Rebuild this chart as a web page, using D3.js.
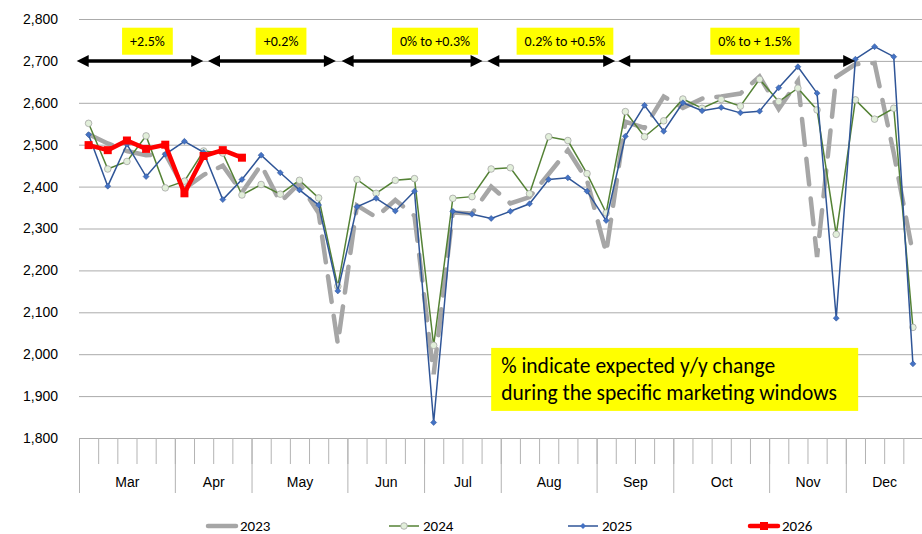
<!DOCTYPE html>
<html>
<head>
<meta charset="UTF-8">
<title>Weekly volume by marketing window</title>
<script src="https://cdn.jsdelivr.net/npm/d3@7"></script>
<style>
  body { margin: 0; background: #fff; }
  svg { display: block; font-family: Carlito, Lato, sans-serif; }
</style>
</head>
<body>
<svg id="chart" width="922" height="534"></svg>
<script>
  // months on the outer axis level, and how many weekly points each one holds
  const months = ["Mar", "Apr", "May", "Jun", "Jul", "Aug", "Sep", "Oct", "Nov", "Dec"];
  const weeksPerMonth = [5, 4, 5, 4, 4, 5, 4, 5, 4, 4];
  const yTicks = [1800, 1900, 2000, 2100, 2200, 2300, 2400, 2500, 2600, 2700, 2800];
  const years = ["2023", "2024", "2025", "2026"];

  // weekly values
  const v2023 = [2525, 2503, 2485, 2475, 2478, 2395, 2428, 2450, 2386, 2452, 2363, 2408, 2337, 2025,
    2355, 2327, 2368, 2330, 1952, 2338, 2336, 2400, 2360, 2375, 2430, 2487, 2415, 2242, 2555, 2540,
    2615, 2588, 2610, 2615, 2622, 2663, 2585, 2652, 2232, 2662, 2692, 2695, 2480, 2240];
  const v2024 = [2551, 2442, 2460, 2521, 2397, 2413, 2485, 2480, 2380, 2405, 2382, 2415, 2373, 2162,
    2417, 2384, 2415, 2419, 2021, 2372, 2376, 2442, 2445, 2383, 2519, 2510, 2431, 2337, 2579, 2519,
    2557, 2609, 2587, 2608, 2592, 2656, 2603, 2635, 2583, 2286, 2607, 2561, 2587, 2064];
  const v2025 = [2524, 2401, 2501, 2424, 2477, 2508, 2482, 2369, 2417, 2475, 2433, 2392, 2356, 2151,
    2352, 2372, 2342, 2389, 1837, 2341, 2334, 2324, 2341, 2359, 2417, 2421, 2389, 2319, 2520, 2594,
    2532, 2600, 2581, 2589, 2576, 2580, 2636, 2686, 2623, 2086, 2704, 2734, 2710, 1977];
  const v2026 = [2499, 2487, 2510, 2490, 2500, 2384, 2473, 2487, 2469];

  // marketing windows, in week units, with the expected y/y change
  const windowLabels = ["+2.5%", "+0.2%", "0% to +0.3%", "0.2% to +0.5%", "0% to + 1.5%"];
  const windowFrom = [-0.12, 6.73, 13.7, 21.3, 28.13];
  const windowTo = [6.48, 13.4, 21.05, 27.97, 40.49];
  const labelAt = [3.57, 10.54, 18.57, 25.35, 35.26];

  const pLeft = 79, pRight = 922.5, pTop = 19, pBottom = 438;
  const svg = d3.select("#chart");

  var nWeeks = d3.sum(weeksPerMonth);
  var monthEdges = [0];
  weeksPerMonth.forEach(n => monthEdges.push(monthEdges[monthEdges.length - 1] + n));
  var monthMids = months.map((m, i) => (monthEdges[i] + monthEdges[i + 1]) / 2);

  const xBand = d3.scaleBand().domain(d3.range(nWeeks)).range([pLeft, pRight]);
  const xEdge = d3.scaleLinear().domain([0, nWeeks]).range([pLeft, pRight]);
  const y = d3.scaleLinear().domain([1800, 2800]).range([pBottom, pTop]);
  const cx = i => xBand(i) + xBand.bandwidth() / 2;

  // gridlines + y labels
  const yAxis = svg.append("g")
    .attr("transform", "translate(" + pLeft + ",0)")
    .call(d3.axisLeft(y).tickValues(yTicks).tickFormat(d3.format(","))
      .tickSizeInner(-(pRight - pLeft)).tickSizeOuter(0).tickPadding(21));
  yAxis.select(".domain").remove();
  yAxis.selectAll("line").attr("stroke", "#ababab").attr("stroke-width", 1);
  yAxis.selectAll("text").attr("fill", "#000").style("font-size", "14px");

  // week ticks, longer month separators, month names
  const weekAxis = svg.append("g")
    .attr("transform", "translate(0," + pBottom + ")")
    .call(d3.axisBottom(xEdge).tickValues(d3.range(nWeeks + 1)).tickSize(26).tickFormat(""));
  weekAxis.select(".domain").remove();
  weekAxis.selectAll("line").attr("stroke", "#b3b3b3");

  const monthAxis = svg.append("g")
    .attr("transform", "translate(0," + pBottom + ")")
    .call(d3.axisBottom(xEdge).tickValues(monthEdges).tickSize(55).tickFormat(""));
  monthAxis.select(".domain").remove();
  monthAxis.selectAll("line").attr("stroke", "#b3b3b3");

  const labelAxis = svg.append("g")
    .attr("transform", "translate(0," + pBottom + ")")
    .call(d3.axisBottom(xEdge).tickValues(monthMids).tickSize(0).tickPadding(39)
      .tickFormat((d, i) => months[i]));
  labelAxis.select(".domain").remove();
  labelAxis.selectAll("text").attr("fill", "#000").style("font-size", "14px");

  const line = d3.line().x((d, i) => cx(i)).y(d => y(d));

  // 2023 - thick grey long dashes
  svg.append("path").datum(v2023)
    .attr("d", line).attr("fill", "none")
    .attr("stroke", "#a6a6a6").attr("stroke-width", 4.5)
    .attr("stroke-dasharray", "26,14").attr("stroke-linecap", "round");

  // 2024 - green with pale circles
  svg.append("path").datum(v2024)
    .attr("d", line).attr("fill", "none")
    .attr("stroke", "#548235").attr("stroke-width", 1.5);
  svg.selectAll(".m2024").data(v2024).enter().append("circle")
    .attr("class", "m2024")
    .attr("cx", (d, i) => cx(i)).attr("cy", d => y(d)).attr("r", 3.3)
    .attr("fill", "#e2efda").attr("stroke", "#a5a5a5").attr("stroke-width", 0.8);

  // 2025 - blue with diamonds
  svg.append("path").datum(v2025)
    .attr("d", line).attr("fill", "none")
    .attr("stroke", "#2f5597").attr("stroke-width", 1.5);
  svg.selectAll(".m2025").data(v2025).enter().append("path")
    .attr("class", "m2025")
    .attr("d", d3.symbol(d3.symbolSquare, 18))
    .attr("transform", (d, i) => "translate(" + cx(i) + "," + y(d) + ") rotate(45)")
    .attr("fill", "#4472c4").attr("stroke", "#2f5597").attr("stroke-width", 0.5);

  // 2026 - red, thick, squares
  svg.append("path").datum(v2026)
    .attr("d", line).attr("fill", "none")
    .attr("stroke", "#ff0000").attr("stroke-width", 4.5).attr("stroke-linejoin", "round");
  svg.selectAll(".m2026").data(v2026).enter().append("rect")
    .attr("class", "m2026")
    .attr("x", (d, i) => cx(i) - 4).attr("y", d => y(d) - 4)
    .attr("width", 8).attr("height", 8).attr("fill", "#ff0000");

  // window arrows + yellow labels
  const ay = y(2700), head = 12;
  windowLabels.forEach((lab, i) => {
    var x1 = xEdge(windowFrom[i]), x2 = xEdge(windowTo[i]);
    svg.append("line")
      .attr("x1", x1 + head - 1).attr("x2", x2 - head + 1).attr("y1", ay).attr("y2", ay)
      .attr("stroke", "#000").attr("stroke-width", 3.5);
    svg.append("path")
      .attr("d", "M" + x1 + "," + ay + "L" + (x1 + head) + "," + (ay - 6) + "L" + (x1 + head) + "," + (ay + 6) + "Z")
      .attr("fill", "#000");
    svg.append("path")
      .attr("d", "M" + x2 + "," + ay + "L" + (x2 - head) + "," + (ay - 6) + "L" + (x2 - head) + "," + (ay + 6) + "Z")
      .attr("fill", "#000");

    var g = svg.append("g");
    var t = g.append("text")
      .attr("x", xEdge(labelAt[i])).attr("y", y(2747))
      .attr("text-anchor", "middle").attr("dominant-baseline", "central")
      .style("font-size", "14px").attr("fill", "#000")
      .text(lab);
    var bb = t.node().getBBox();
    g.insert("rect", "text")
      .attr("x", bb.x - 8).attr("y", y(2747) - 13.5)
      .attr("width", bb.width + 16).attr("height", 27)
      .attr("fill", "#ffff00");
  });

  // note box
  const note = svg.append("g");
  note.append("rect")
    .attr("x", xEdge(21.5)).attr("y", y(2015))
    .attr("width", 367).attr("height", 63)
    .attr("fill", "#ffff00");
  note.append("text")
    .attr("x", xEdge(21.5) + 10).attr("y", y(2015) + 25)
    .style("font-size", "21.5px").attr("fill", "#000")
    .text("% indicate expected y/y change");
  note.append("text")
    .attr("x", xEdge(21.5) + 10).attr("y", y(2015) + 52)
    .style("font-size", "21.5px").attr("fill", "#000")
    .text("during the specific marketing windows");

  // legend
  const legendX = [206, 389, 568, 748];
  const leg = svg.append("g").attr("transform", "translate(0,526)");
  years.forEach((yr, i) => {
    var g = leg.append("g").attr("transform", "translate(" + legendX[i] + ",0)");
    if (i === 0) {
      g.append("line").attr("x1", 2).attr("x2", 30).attr("stroke", "#a6a6a6")
        .attr("stroke-width", 4.5).attr("stroke-linecap", "round");
    } else if (i === 1) {
      g.append("line").attr("x2", 30).attr("stroke", "#548235").attr("stroke-width", 1.5);
      g.append("circle").attr("cx", 15).attr("r", 3.3).attr("fill", "#e2efda")
        .attr("stroke", "#a5a5a5").attr("stroke-width", 0.8);
    } else if (i === 2) {
      g.append("line").attr("x2", 30).attr("stroke", "#2f5597").attr("stroke-width", 1.5);
      g.append("path").attr("d", d3.symbol(d3.symbolSquare, 18))
        .attr("transform", "translate(15,0) rotate(45)").attr("fill", "#4472c4");
    } else {
      g.append("line").attr("x1", 2).attr("x2", 30).attr("stroke", "#ff0000")
        .attr("stroke-width", 4.5).attr("stroke-linecap", "round");
      g.append("rect").attr("x", 12).attr("y", -4).attr("width", 8).attr("height", 8).attr("fill", "#ff0000");
    }
    g.append("text").attr("x", 34).attr("y", 4.5)
      .style("font-size", "15px").attr("fill", "#000").text(yr);
  });
</script>
</body>
</html>
